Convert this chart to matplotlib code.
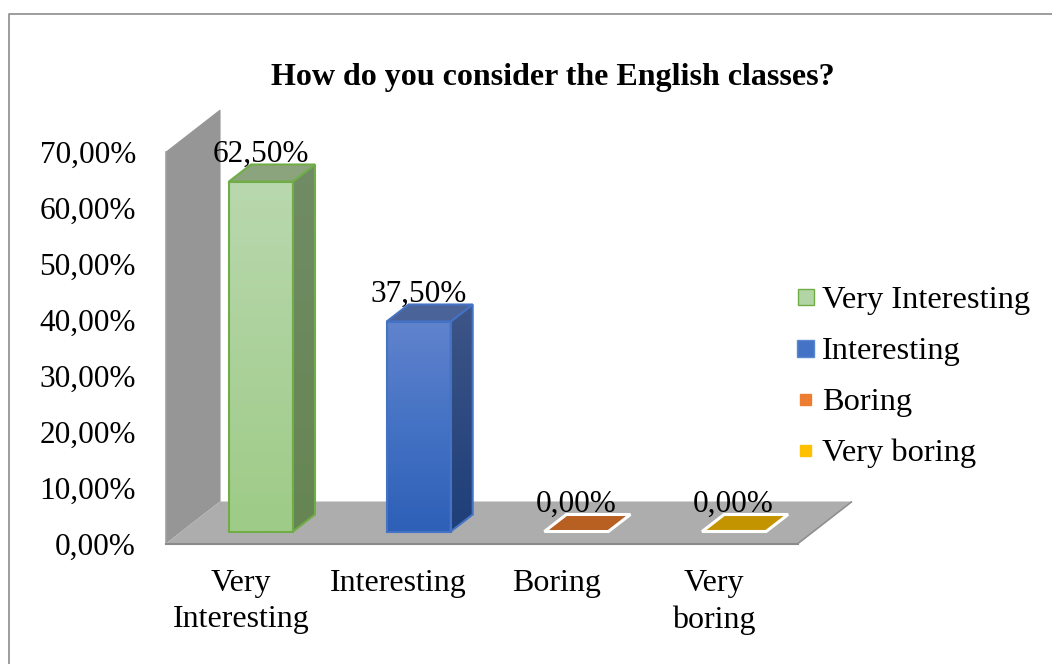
import numpy as np
import matplotlib
matplotlib.use("Agg")
import matplotlib.pyplot as plt
from matplotlib.patches import Polygon, Rectangle
from matplotlib.lines import Line2D
from matplotlib.transforms import Affine2D
from matplotlib.colors import LinearSegmentedColormap

plt.rcParams['font.family'] = ['Liberation Serif', 'DejaVu Serif']

categories = ["Very\nInteresting", "Interesting", "Boring", "Very\nboring"]
legend_labels = ["Very Interesting", "Interesting", "Boring", "Very boring"]
values = [62.5, 37.5, 0.0, 0.0]
value_labels = ["62,50%", "37,50%", "0,00%", "0,00%"]
yticks = [0, 10, 20, 30, 40, 50, 60, 70]
ytick_labels = ["0,00%", "10,00%", "20,00%", "30,00%", "40,00%", "50,00%", "60,00%", "70,00%"]
title = "How do you consider the English classes?"

W, H = 1052, 664
fig = plt.figure(figsize=(W / 100, H / 100), dpi=100, facecolor="white")

# plot area in pixels
x0, x1, ybot, ytop = 166, 798, 543.5, 151.5
ax = fig.add_axes([x0 / W, 1 - ybot / H, (x1 - x0) / W, (ybot - ytop) / H])
ax.set_ylim(0, 70)
ax.set_xlim((x0 - 241) / 157.7, (x1 - 241) / 157.7)
ax.patch.set_visible(False)
for s in ax.spines.values():
    s.set_visible(False)


def shift(dx, dy):
    return ax.transData + Affine2D().translate(dx, dy)


def poly(pts_px, **kw):
    """Each point: data x, data y, then a pixel offset for the oblique depth."""
    disp = [ax.transData.transform((x, y)) + np.array([dx, dy]) for x, y, dx, dy in pts_px]
    p = Polygon(disp, closed=True, transform=None, clip_on=False, **kw)
    ax.add_artist(p)
    return p


xa, xb = ax.get_xlim()
DX, DY = 54, 42        # wall depth in px
BARW = 64 / 157.7
BDX, BDY = 22, 17      # bar depth in px
OFFX, OFFY = 20, 12    # bar front plane offset from the axes plane


def gradient(cols, box, clip):
    cm = LinearSegmentedColormap.from_list("g", cols)
    g = np.linspace(0, 1, 256).reshape(-1, 1)
    im = ax.imshow(g, cmap=cm, aspect="auto", extent=box, origin="upper", zorder=2.5,
                   transform=shift(OFFX, OFFY), interpolation="bilinear")
    im.set_clip_on(True)
    im.set_clip_path(clip)
    return im


# side wall
poly([(xa, 0, 0, 0), (xa, 70, 0, 0), (xa, 70, DX, DY), (xa, 0, DX, DY)],
     facecolor="#969696", edgecolor="none", zorder=1)
ax.add_artist(Line2D([xa, xa], [0, 70], color="#a0a0a0", lw=1.2, zorder=1, clip_on=False))
poly([(xa, 0, DX, 0), (xa, 70, DX, DY), (xa, 70, DX + 1, DY), (xa, 0, DX + 1, 0)],
     facecolor="#c4c4c4", edgecolor="none", zorder=1)
# floor
poly([(xa, 0, 0, 0), (xb, 0, 0, 0), (xb, 0, DX, DY), (xa, 0, DX, DY)],
     facecolor="#adadad", edgecolor="none", zorder=1)
ax.add_artist(Line2D([xa, xb], [0, 0], color="#8a8a8a", lw=1.5, zorder=1, clip_on=False))
poly([(xb, 0, 0, 0), (xb, 0, DX, DY)], facecolor="none", edgecolor="#8f8f8f", linewidth=1.2, zorder=1)

styles = [
    dict(front=["#b9d8ae", "#9ecb87"], side=["#718c66", "#668553"], top="#8ba47e", edge="#70ad47", lw=1.5),
    dict(front=["#6183cd", "#4472c4", "#2e60b8"], side=["#3e5587", "#1e3f79"], top="#4a6399", edge="#4472c4", lw=1.5),
    dict(front=None, side=None, top="#b85f22", edge="white", lw=2.2),
    dict(front=None, side=None, top="#c49400", edge="white", lw=2.2),
]

for i, (v, st) in enumerate(zip(values, styles)):
    l, r = i - BARW / 2, i + BARW / 2
    if v > 0:
        # right side
        side_pts = [(r, 0, OFFX, OFFY), (r, v, OFFX, OFFY),
                    (r, v, OFFX + BDX, OFFY + BDY), (r, 0, OFFX + BDX, OFFY + BDY)]
        side = poly(side_pts, facecolor=st["side"][1], edgecolor="none", zorder=2)
        gradient(st["side"], (r, r + BDX / 157.7, 0, v + BDY / 5.6), side)
        poly(side_pts, facecolor="none", edgecolor=st["edge"], linewidth=st["lw"], zorder=3)
        # front
        clip = Rectangle((l, 0), BARW, v, transform=shift(OFFX, OFFY))
        gradient(st["front"], (l, r, 0, v), clip)
        ax.bar(i, v, BARW, color="none", edgecolor=st["edge"], linewidth=st["lw"],
               transform=shift(OFFX, OFFY), zorder=4, clip_on=False)
    # top face (the only visible face of zero-height bars)
    poly([(l, v, OFFX, OFFY), (r, v, OFFX, OFFY),
          (r, v, OFFX + BDX, OFFY + BDY), (l, v, OFFX + BDX, OFFY + BDY)],
         facecolor=st["top"], edgecolor=st["edge"], linewidth=st["lw"], zorder=4)
    # data label
    ax.annotate(value_labels[i], (i, v), xytext=(19.5 * 0.72, 31.5 * 0.72), textcoords="offset points",
                ha="center", va="baseline", fontsize=22.5, color="black", zorder=6,
                annotation_clip=False)

ax.set_xlim(xa, xb)
ax.set_ylim(0, 70)
ax.set_yticks(yticks, ytick_labels, fontsize=22.5)
ax.set_xticks(range(4), categories, fontsize=23, linespacing=1.3)
ax.tick_params(axis="both", length=0)
ax.tick_params(axis="y", pad=30 * 0.72)
ax.tick_params(axis="x", pad=26 * 0.72)

# title
fig.text(553 / W, 1 - 78 / H, title, fontsize=23, fontweight="bold", ha="center", va="center")

# legend, hand placed to match swatch sizes
leg_rows = [297, 348, 399, 450]
leg_cols = [("#b3d5a5", "#70ad47", 16), ("#4472c4", "#5b87d0", 17), ("#ed7d31", "#ed7d31", 11), ("#ffc000", "#ffc000", 11)]
for name, yc, (fc, ec, size) in zip(legend_labels, leg_rows, leg_cols):
    fig.add_artist(Rectangle((805.5 - size / 2, H - yc - size / 2), size, size, transform=None,
                             facecolor=fc, edgecolor=ec, linewidth=1))
    fig.text(822 / W, 1 - yc / H, name, fontsize=23.4, ha="left", va="center_baseline")

# chart border
fig.add_artist(Line2D([1, 9.5 / W, 9.5 / W], [1 - 13.5 / H, 1 - 13.5 / H, 0],
                      color="#8c8c8c", lw=1.2))

fig.savefig("out.png", dpi=100, facecolor="white")
